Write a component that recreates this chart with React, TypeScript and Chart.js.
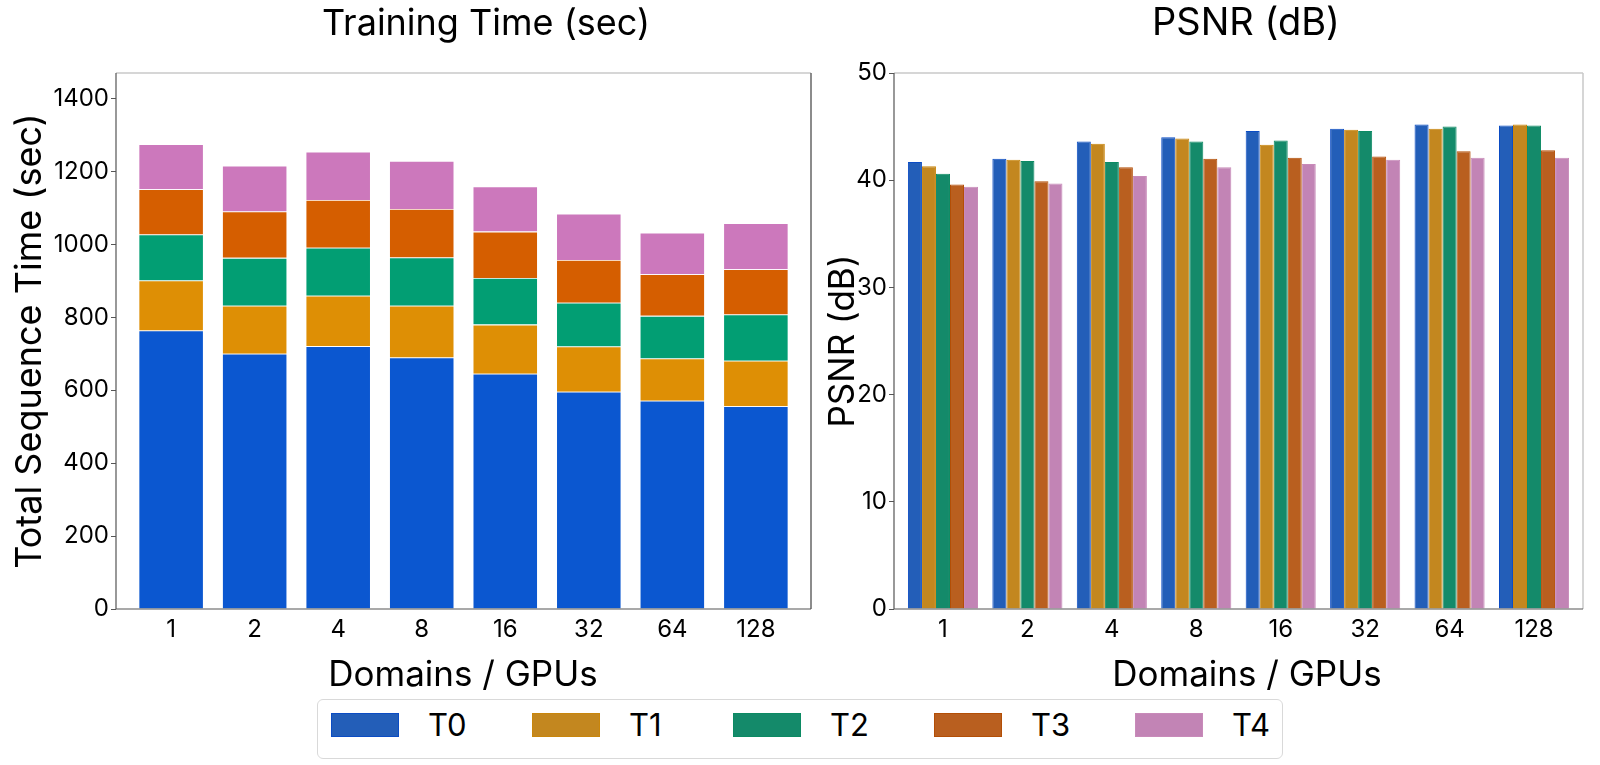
import React, { useEffect, useRef } from "react";
import { Chart, registerables } from "chart.js";

Chart.register(...registerables);

const FONT = "Inter, 'Open Sans', sans-serif";

// Domains / GPUs categories
const domains = ["1", "2", "4", "8", "16", "32", "64", "128"];
const stages = ["T0", "T1", "T2", "T3", "T4"];

// Training time per stage (sec), stacked
const timeT0 = [764, 700, 721, 690, 645, 596, 571, 556];
const timeT1 = [137, 132, 138, 142, 135, 124, 116, 125];
const timeT2 = [126, 131, 132, 132, 128, 120, 117, 127];
const timeT3 = [124, 127, 131, 133, 127, 117, 114, 124];
const timeT4 = [124, 126, 132, 132, 124, 127, 114, 126];

// PSNR per stage (dB)
const psnrT0 = [41.7, 42.0, 43.6, 44.0, 44.6, 44.8, 45.2, 45.1];
const psnrT1 = [41.3, 41.9, 43.4, 43.9, 43.3, 44.7, 44.8, 45.2];
const psnrT2 = [40.6, 41.8, 41.7, 43.6, 43.7, 44.6, 45.0, 45.1];
const psnrT3 = [39.6, 39.9, 41.2, 42.0, 42.1, 42.2, 42.7, 42.8];
const psnrT4 = [39.4, 39.7, 40.4, 41.2, 41.5, 41.9, 42.1, 42.1];

const timeTicks = [0, 200, 400, 600, 800, 1000, 1200, 1400];
const psnrTicks = [0, 10, 20, 30, 40, 50];

const timeColors = ["#0b57d0", "#de8f05", "#029e73", "#d55e00", "#cc78bc"];
const psnrColors = ["#235eb8", "#c3871f", "#148a6a", "#b95f1f", "#c284b5"];
const psnrEdges = ["#0b4cc4", "#c9860c", "#0c8a63", "#b34e06", "#c88ab9"];

const timeSeries = [timeT0, timeT1, timeT2, timeT3, timeT4];
const psnrSeries = [psnrT0, psnrT1, psnrT2, psnrT3, psnrT4];

// Panel heading drawn above the plot area, centred at cx
function panelTitle(text: string, cx: number, size: number) {
  return {
    id: "panelTitle",
    afterDraw(chart: any) {
      const ctx = chart.ctx;
      ctx.save();
      ctx.font = `${size}px ${FONT}`;
      ctx.fillStyle = "#000";
      ctx.textAlign = "center";
      ctx.textBaseline = "middle";
      ctx.fillText(text, cx, 24);
      ctx.restore();
    },
  };
}

// x-axis caption below the tick labels, centred at cx
function xCaption(text: string, cx: number) {
  return {
    id: "xCaption",
    afterDraw(chart: any) {
      const ctx = chart.ctx;
      ctx.save();
      ctx.font = `35px ${FONT}`;
      ctx.fillStyle = "#000";
      ctx.textAlign = "center";
      ctx.textBaseline = "middle";
      ctx.fillText(text, cx, 675);
      ctx.restore();
    },
  };
}

function frame(rightColor: string) {
  return {
    id: "frame",
    afterDatasetsDraw(chart: any) {
      const { left, right, top, bottom } = chart.chartArea;
      const ctx = chart.ctx;
      ctx.save();
      ctx.lineWidth = 1.5;
      ctx.strokeStyle = "#c8c8c8";
      ctx.beginPath();
      ctx.moveTo(left, top);
      ctx.lineTo(right, top);
      ctx.stroke();
      ctx.strokeStyle = rightColor;
      ctx.beginPath();
      ctx.moveTo(right, top);
      ctx.lineTo(right, bottom);
      ctx.stroke();
      ctx.lineWidth = 1.2;
      ctx.strokeStyle = "#555";
      ctx.beginPath();
      ctx.moveTo(left, top);
      ctx.lineTo(left, bottom);
      ctx.lineTo(right, bottom);
      ctx.stroke();
      ctx.restore();
    },
  };
}

function xScale(min: number, max: number) {
  return {
    type: "linear",
    min,
    max,
    offset: false,
    stacked: true,
    afterBuildTicks: (s: any) => {
      s.ticks = domains.map((_, i) => ({ value: i }));
    },
    afterFit: (s: any) => {
      s.height = 91;
    },
    ticks: {
      callback: (v: number) => domains[v] ?? "",
      font: { size: 24, family: FONT },
      color: "#000",
      padding: 6,
      maxRotation: 0,
      autoSkip: false,
    },
    grid: { display: true, drawOnChartArea: false, drawTicks: false, offset: false },
    border: { display: false },
    title: { display: false },
  };
}

function yScale(max: number, ticks: number[], width: number, title: string, titleSize: number, titlePad: number) {
  return {
    type: "linear",
    min: 0,
    max,
    afterBuildTicks: (s: any) => {
      s.ticks = ticks.map((v) => ({ value: v }));
    },
    afterFit: (s: any) => {
      s.width = width;
    },
    ticks: {
      callback: (v: number) => String(v),
      font: { size: 24, family: FONT },
      color: "#000",
      padding: 2,
    },
    grid: {
      drawOnChartArea: false,
      drawTicks: true,
      tickLength: 5,
      color: "#555",
    },
    border: { display: false },
    title: {
      display: true,
      text: title,
      font: { size: titleSize, family: FONT },
      color: "#000",
      padding: { top: titlePad, bottom: 0 },
    },
  };
}

function TimeChart() {
  const ref = useRef<HTMLCanvasElement | null>(null);
  useEffect(() => {
    if (!ref.current) return;
    const chart = new Chart(ref.current, {
      type: "bar",
      data: {
        datasets: stages.map((s, k) => ({
          label: s,
          data: timeSeries[k].map((v, i) => ({ x: i, y: v })),
          backgroundColor: timeColors[k],
          borderColor: "rgba(255,255,255,0.25)",
          borderWidth: 0.8,
          barPercentage: 0.78,
          categoryPercentage: 1,
        })),
      },
      options: {
        responsive: false,
        animation: false,
        layout: { padding: { top: 73, right: 19, left: 0, bottom: 0 } },
        plugins: { legend: { display: false }, tooltip: { enabled: false } },
        scales: {
          x: xScale(-0.66, 7.66) as any,
          y: { ...(yScale(1470, timeTicks, 116, "Total Sequence Time (sec)", 36, 9) as any), stacked: true },
        },
      },
      plugins: [panelTitle("Training Time (sec)", 486, 36), xCaption("Domains / GPUs", 463), frame("#666")],
    });
    return () => chart.destroy();
  }, []);
  return <canvas ref={ref} width={830} height={700} style={{ position: "absolute", left: 0, top: 0, width: 830, height: 700 }} />;
}

function PsnrChart() {
  const ref = useRef<HTMLCanvasElement | null>(null);
  useEffect(() => {
    if (!ref.current) return;
    const chart = new Chart(ref.current, {
      type: "bar",
      data: {
        datasets: stages.map((s, k) => ({
          label: s,
          data: psnrSeries[k].map((v, i) => ({ x: i, y: v })),
          backgroundColor: psnrColors[k],
          borderColor: psnrEdges[k],
          borderWidth: 1,
          barPercentage: 1,
          categoryPercentage: 0.83,
        })),
      },
      options: {
        responsive: false,
        animation: false,
        layout: { padding: { top: 73, right: 17, left: 0, bottom: 0 } },
        plugins: { legend: { display: false }, tooltip: { enabled: false } },
        scales: {
          x: { ...(xScale(-0.58, 7.58) as any), stacked: false },
          y: yScale(50, psnrTicks, 74, "PSNR (dB)", 35, 2) as any,
        },
      },
      plugins: [panelTitle("PSNR (dB)", 426, 38), xCaption("Domains / GPUs", 427), frame("#c8c8c8")],
    });
    return () => chart.destroy();
  }, []);
  return <canvas ref={ref} width={780} height={700} style={{ position: "absolute", left: 820, top: 0, width: 780, height: 700 }} />;
}

function Legend() {
  return (
    <div
      style={{
        position: "absolute",
        left: 317,
        top: 699,
        width: 966,
        height: 60,
        boxSizing: "border-box",
        border: "1px solid #d9d9d9",
        borderRadius: 6,
        background: "#fff",
        fontFamily: FONT,
      }}
    >
      {stages.map((s, k) => (
        <div key={s} style={{ position: "absolute", left: 13 + k * 201, top: 0, height: 58 }}>
          <div
            style={{
              position: "absolute",
              left: 0,
              top: 13,
              width: 68,
              height: 24,
              boxSizing: "border-box",
              background: psnrColors[k],
              border: `1px solid ${psnrEdges[k]}`,
            }}
          />
          <div
            style={{
              position: "absolute",
              left: 97,
              top: 6,
              fontSize: 31,
              lineHeight: "38px",
              color: "#000",
              whiteSpace: "nowrap",
            }}
          >
            {s}
          </div>
        </div>
      ))}
    </div>
  );
}

export default function App() {
  return (
    <div
      style={{
        position: "absolute",
        left: 0,
        top: 0,
        width: 1600,
        height: 765,
        overflow: "hidden",
        background: "#fff",
      }}
    >
      <TimeChart />
      <PsnrChart />
      <Legend />
    </div>
  );
}
